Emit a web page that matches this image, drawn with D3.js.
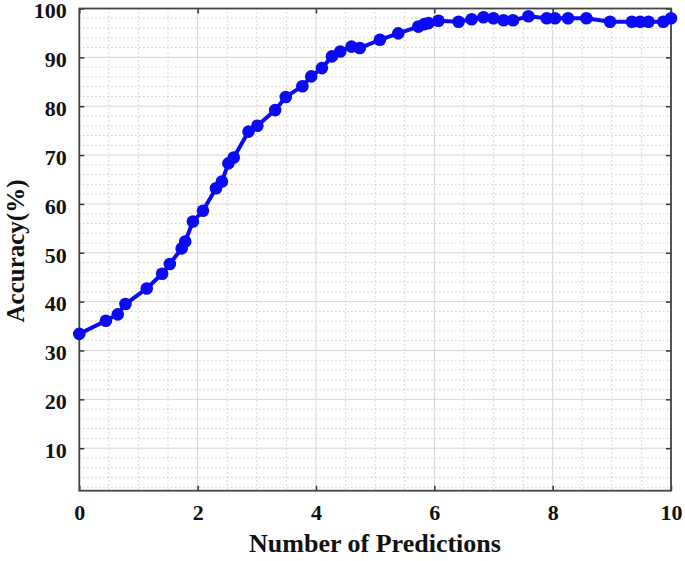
<!DOCTYPE html>
<html>
<head>
<meta charset="utf-8">
<script src="https://cdn.jsdelivr.net/npm/d3@7"></script>
<style>
  body { margin: 0; background: #fff; }
  text { font-family: "Liberation Serif", "Times New Roman", serif; font-weight: bold; fill: #111; }
</style>
</head>
<body>
<svg width="685" height="561"></svg>
<script>
// number of predictions (x) and accuracy in % (y)
const predictions = [0, 0.45, 0.65, 0.78, 1.14, 1.40, 1.53, 1.73, 1.79, 1.92, 2.09, 2.31, 2.41,
    2.52, 2.61, 2.86, 3.01, 3.31, 3.49, 3.77, 3.92, 4.10, 4.27, 4.41, 4.60, 4.74, 5.08, 5.39,
    5.73, 5.83, 5.90, 6.07, 6.41, 6.63, 6.83, 7.00, 7.17, 7.33, 7.59, 7.90, 8.04, 8.26, 8.57,
    8.97, 9.34, 9.48, 9.62, 9.87, 10.0];
const accuracy = [33.4, 36.1, 37.4, 39.5, 42.7, 45.7, 47.7, 50.9, 52.3, 56.4, 58.6, 63.2, 64.6,
    68.3, 69.5, 74.8, 76.0, 79.2, 81.9, 84.1, 86.1, 87.8, 90.2, 91.2, 92.2, 91.9, 93.6, 94.9,
    96.3, 96.8, 97.0, 97.5, 97.3, 97.8, 98.2, 98.0, 97.6, 97.6, 98.4, 98.0, 98.0, 98.0, 98.0,
    97.3, 97.3, 97.3, 97.3, 97.3, 98.0];
const xTicks = [0, 2, 4, 6, 8, 10];
const yTicks = [10, 20, 30, 40, 50, 60, 70, 80, 90, 100];

const data = predictions.map((p, i) => ({x: p, y: accuracy[i]}));

const svg = d3.select("svg");
const margin = {top: 8.5, right: 14, bottom: 70.3, left: 79.3};
const width = 685 - margin.left - margin.right;
const height = 561 - margin.top - margin.bottom;

const g = svg.append("g").attr("transform", `translate(${margin.left},${margin.top})`);

const xScale = d3.scaleLinear().domain([0, 10]).range([0, width]);
const yScale = d3.scaleLinear().domain([1.3, 100]).range([height, 0]);

// minor dotted grid
const xMinor = d3.range(0.5, 10, 0.5).filter(v => v % 2 !== 0);
const yMinor = d3.range(2, 100, 2).filter(v => v % 10 !== 0);

g.selectAll(".xminor").data(xMinor).join("line")
    .attr("x1", d => xScale(d)).attr("x2", d => xScale(d))
    .attr("y1", 0).attr("y2", height)
    .attr("stroke", "#b8b8b8").attr("stroke-width", 1)
    .attr("stroke-dasharray", "1,3");

g.selectAll(".yminor").data(yMinor).join("line")
    .attr("x1", 0).attr("x2", width)
    .attr("y1", d => yScale(d)).attr("y2", d => yScale(d))
    .attr("stroke", "#b8b8b8").attr("stroke-width", 1)
    .attr("stroke-dasharray", "1,3");

// major grid
g.selectAll(".xmajor").data(xTicks).join("line")
    .attr("x1", d => xScale(d)).attr("x2", d => xScale(d))
    .attr("y1", 0).attr("y2", height)
    .attr("stroke", "#d6d6d6").attr("stroke-width", 1);

g.selectAll(".ymajor").data(yTicks).join("line")
    .attr("x1", 0).attr("x2", width)
    .attr("y1", d => yScale(d)).attr("y2", d => yScale(d))
    .attr("stroke", "#d6d6d6").attr("stroke-width", 1);

// axes with inward ticks
g.append("g")
    .attr("class", "axis axis--x")
    .attr("transform", `translate(0, ${height})`)
    .call(d3.axisBottom(xScale).tickValues(xTicks).tickSizeInner(-5).tickSizeOuter(0).tickPadding(14));

g.append("g")
    .attr("class", "axis axis--y")
    .call(d3.axisLeft(yScale).tickValues(yTicks).tickSizeInner(-5).tickSizeOuter(0).tickPadding(12.5))
    .selectAll(".tick text").attr("dy", "0.42em");

g.append("g")
    .call(d3.axisTop(xScale).tickValues(xTicks).tickSizeInner(-5).tickSizeOuter(0).tickFormat(""));

g.append("g")
    .attr("transform", `translate(${width}, 0)`)
    .call(d3.axisRight(yScale).tickValues(yTicks).tickSizeInner(-5).tickSizeOuter(0).tickFormat(""));

g.selectAll(".domain").remove();
g.selectAll(".tick line").attr("stroke", "#333").attr("stroke-width", 1.5);
g.selectAll(".tick text")
    .attr("font-size", 22)
    .attr("font-family", "Liberation Serif, serif")
    .attr("font-weight", "bold")
    .attr("fill", "#111");

g.append("rect")
    .attr("x", 0).attr("y", 0)
    .attr("width", width).attr("height", height)
    .attr("fill", "none")
    .attr("stroke", "#444")
    .attr("stroke-width", 1.8);

// the curve
const line = d3.line().x(d => xScale(d.x)).y(d => yScale(d.y));

g.append("path")
    .datum(data)
    .attr("fill", "none")
    .attr("stroke", "#0a0af5")
    .attr("stroke-width", 4)
    .attr("stroke-linejoin", "round")
    .attr("d", line);

g.selectAll(".pt").data(data).join("circle")
    .attr("cx", d => xScale(d.x))
    .attr("cy", d => yScale(d.y))
    .attr("r", 6.3)
    .attr("fill", "#0a0af5");

// labels
svg.append("text")
    .attr("text-anchor", "middle")
    .attr("x", 375)
    .attr("y", 552)
    .attr("font-size", 26)
    .text("Number of Predictions");

svg.append("text")
    .attr("text-anchor", "middle")
    .attr("transform", "translate(24, 251) rotate(-90)")
    .attr("font-size", 25)
    .text("Accuracy(%)");
</script>
</body>
</html>
